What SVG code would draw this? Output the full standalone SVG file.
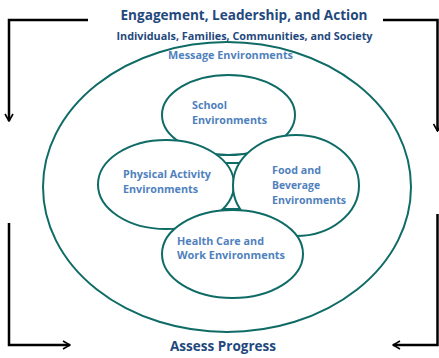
<svg xmlns="http://www.w3.org/2000/svg" width="439" height="358" viewBox="0 0 439 358">
  <defs>
    <marker id="chev" viewBox="0 0 10 10" refX="9" refY="5" markerWidth="4" markerHeight="4" orient="auto" markerUnits="strokeWidth">
      <path d="M2,1 L9,5 L2,9" fill="none" stroke="#000" stroke-width="1.6"/>
    </marker>
    <style>
      .ring { fill: #fff; stroke: #0f6b66; stroke-width: 2; }
      .lbl { font-family: "Open Sans", "Liberation Sans", sans-serif; font-weight: bold; font-size: 11px; fill: #4f81bd; }
      .head { font-family: "Open Sans", "Liberation Sans", sans-serif; font-weight: bold; fill: #1f497d; text-anchor: middle; }
      .flow { fill: none; stroke: #000; stroke-width: 2.5; }
    </style>
  </defs>
  <rect width="439" height="358" fill="#fff"/>

  <!-- cycle arrows around the diagram -->
  <g id="connectors">
    <path class="flow" d="M88,20 H9 V121" marker-end="url(#chev)"/>
    <path class="flow" d="M383,20 H437.5 V131" marker-end="url(#chev)"/>
    <path class="flow" d="M9,223 V345 H70" marker-end="url(#chev)"/>
    <path class="flow" d="M437.5,214 V345 H393" marker-end="url(#chev)"/>
  </g>

  <g id="title">
    <text class="head" x="244" y="20" font-size="15" textLength="247" lengthAdjust="spacingAndGlyphs">Engagement, Leadership, and Action</text>
    <text class="head" x="244.5" y="40" font-size="10.5" textLength="256" lengthAdjust="spacingAndGlyphs">Individuals, Families, Communities, and Society</text>
  </g>

  <g id="message">
    <ellipse class="ring" cx="227" cy="187" rx="184" ry="145"/>
    <text class="lbl" x="230.5" y="59" text-anchor="middle" font-size="10.5" textLength="125" lengthAdjust="spacingAndGlyphs">Message Environments</text>
  </g>

  <g id="hub">
    <rect class="ring" x="224" y="163" width="17" height="46"/>
  </g>

  <g id="school">
    <ellipse class="ring" cx="228.5" cy="115" rx="66.5" ry="40"/>
    <text class="lbl" x="192" y="109" textLength="35" lengthAdjust="spacingAndGlyphs">School</text>
    <text class="lbl" x="192" y="124" textLength="75" lengthAdjust="spacingAndGlyphs">Environments</text>
  </g>

  <g id="physical">
    <ellipse class="ring" cx="166" cy="184.5" rx="68" ry="44.5"/>
    <text class="lbl" x="123" y="178" textLength="88" lengthAdjust="spacingAndGlyphs">Physical Activity</text>
    <text class="lbl" x="123" y="193" textLength="75" lengthAdjust="spacingAndGlyphs">Environments</text>
  </g>

  <g id="food">
    <ellipse class="ring" cx="296" cy="185.5" rx="63" ry="50.5"/>
    <text class="lbl" x="272" y="174" textLength="49" lengthAdjust="spacingAndGlyphs">Food and</text>
    <text class="lbl" x="272" y="189" textLength="48" lengthAdjust="spacingAndGlyphs">Beverage</text>
    <text class="lbl" x="272" y="204" textLength="74" lengthAdjust="spacingAndGlyphs">Environments</text>
  </g>

  <g id="health">
    <ellipse class="ring" cx="232.5" cy="254" rx="70.5" ry="44"/>
    <text class="lbl" x="177" y="245" textLength="87" lengthAdjust="spacingAndGlyphs">Health Care and</text>
    <text class="lbl" x="177" y="259" textLength="108" lengthAdjust="spacingAndGlyphs">Work Environments</text>
  </g>

  <g id="assess">
    <text class="head" x="223" y="350.5" font-size="15" textLength="106" lengthAdjust="spacingAndGlyphs">Assess Progress</text>
  </g>
</svg>
